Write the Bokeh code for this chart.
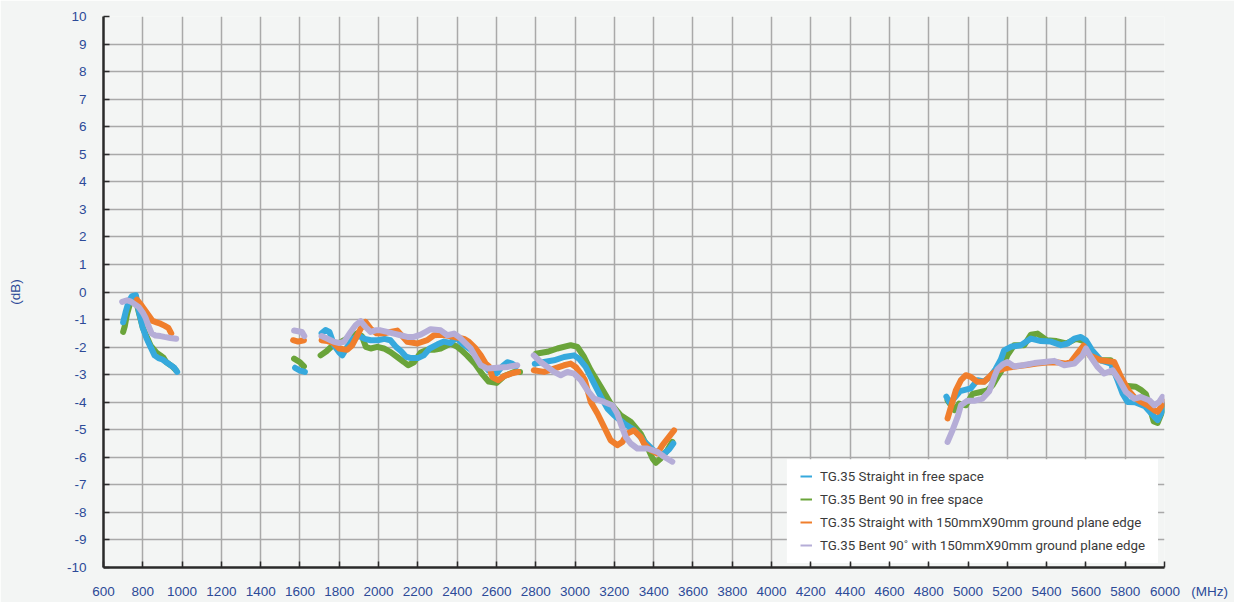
from bokeh.plotting import figure
from bokeh.models import FixedTicker, Legend, LegendItem, BoxAnnotation
from bokeh.embed import file_html
from bokeh.resources import INLINE

NAN = float("nan")

# ---------------- data ----------------
x_ticks = list(range(600, 6001, 200))
y_ticks = list(range(-10, 11, 1))
x_unit = "(MHz)"

series_names = [
    "TG.35 Straight in free space",
    "TG.35 Bent 90 in free space",
    "TG.35 Straight with 150mmX90mm ground plane edge",
    "TG.35 Bent 90\u02da with 150mmX90mm ground plane edge",
]

blue_mhz = [700, 712, 728, 745, 765, 780, 800, 820, 840, 860, 880, 900, 920, 940, 960, 975, NAN,
            1575, 1600, 1625, NAN,
            1710, 1730, 1750, 1775, 1800, 1815, 1840, 1870, 1900, 1930, 1960, 1995, 2030, 2060, 2090, 2115,
            2140, 2165, 2200, 2230, 2260, 2300, 2333, 2367, 2395, 2430, 2470, 2500, 2530, 2560, 2600, 2630,
            2655, 2680, 2700, NAN,
            2795, 2842, 2893, 2944, 2995, 3020, 3054, 3088, 3131, 3165, 3198, 3249, 3300, 3350, 3400, 3450,
            3480, 3500, NAN,
            4890, 4905, 4925, 4960, 5014, 5048, 5080, 5110, 5140, 5167, 5184, 5218, 5269, 5320, 5371, 5422,
            5473, 5507, 5541, 5574, 5600, 5630, 5676, 5727, 5761, 5787, 5812, 5850, 5900, 5948, 5965, 5982, 6000]
blue_db = [-1.1, -0.75, -0.35, -0.15, -0.12, -0.7, -1.3, -1.7, -2.0, -2.3, -2.4, -2.45, -2.55, -2.65, -2.75, -2.9, NAN,
           -2.75, -2.85, -2.9, NAN,
           -1.5, -1.38, -1.45, -1.95, -2.2, -2.3, -2.0, -1.7, -1.6, -1.7, -1.75, -1.75, -1.7, -1.75, -2.0, -2.15,
           -2.35, -2.4, -2.4, -2.3, -2.05, -1.9, -1.8, -1.85, -1.65, -1.9, -2.1, -2.35, -2.6, -2.85, -2.95, -2.7,
           -2.55, -2.6, -2.7, NAN,
           -2.6, -2.54, -2.48, -2.36, -2.3, -2.42, -2.72, -3.2, -3.8, -4.23, -4.47, -4.77, -5.0, -5.4, -5.75, -5.9,
           -5.7, -5.5, NAN,
           -3.8, -4.0, -3.9, -3.6, -3.5, -3.2, -3.25, -3.1, -2.8, -2.45, -2.12, -1.99, -1.93, -1.69, -1.78, -1.8,
           -1.93, -1.87, -1.69, -1.63, -1.75, -2.1, -2.48, -2.6, -3.2, -3.69, -3.99, -4.0, -4.15, -4.53, -4.65, -4.41, -4.1]

green_mhz = [700, 708, 720, 740, 760, 780, 800, 840, 870, 890, 905, 920, 950, 970, NAN,
             1570, 1600, 1620, NAN,
             1705, 1735, 1765, 1800, 1850, 1890, 1915, 1935, 1960, 1993, 2027, 2061, 2095, 2129, 2150, 2180,
             2214, 2248, 2282, 2316, 2367, 2401, 2420, 2450, 2490, 2530, 2560, 2600, 2640, 2690, 2720, NAN,
             2800, 2859, 2910, 2978, 3012, 3046, 3080, 3131, 3181, 3232, 3283, 3334, 3368, 3394, 3411, 3436,
             3470, 3495, NAN,
             4896, 4930, 4955, 4989, 5023, 5065, 5099, 5125, 5150, 5167, 5200, 5235, 5286, 5320, 5354, 5400,
             5450, 5500, 5550, 5600, 5640, 5676, 5727, 5765, 5800, 5854, 5880, 5905, 5925, 5945, 5965, 5985, 6000]
green_db = [-1.45, -1.25, -0.8, -0.3, -0.15, -0.75, -1.3, -1.95, -2.2, -2.3, -2.38, -2.55, -2.7, -2.85, NAN,
            -2.42, -2.55, -2.7, NAN,
            -2.3, -2.15, -1.95, -1.85, -1.65, -1.5, -1.6, -1.99, -2.05, -1.99, -2.05, -2.18, -2.36, -2.54, -2.66, -2.55,
            -2.2, -2.1, -2.1, -2.05, -1.87, -1.99, -2.1, -2.3, -2.6, -3.0, -3.25, -3.3, -3.05, -2.9, -2.9, NAN,
            -2.24, -2.17, -2.05, -1.93, -1.99, -2.36, -2.84, -3.44, -4.05, -4.47, -4.71, -5.14, -5.62, -6.04, -6.2, -6.04,
            -5.74, -5.44, NAN,
            -3.93, -4.29, -4.05, -4.11, -3.7, -3.63, -3.57, -3.38, -3.08, -2.9, -2.3, -1.93, -1.93, -1.55, -1.51, -1.75,
            -1.78, -1.87, -1.7, -1.8, -2.3, -2.48, -2.48, -3.0, -3.4, -3.44, -3.55, -3.7, -4.2, -4.7, -4.75, -4.4, -4.1]

orange_mhz = [770, 790, 810, 830, 850, 870, 890, 910, 930, 945, NAN,
              1565, 1590, 1620, NAN,
              1710, 1740, 1770, 1800, 1840, 1866, 1892, 1909, 1934, 1959, 1990, 2030, 2060, 2095, 2120, 2146,
              2197, 2248, 2282, 2320, 2360, 2400, 2435, 2460, 2494, 2520, 2545, 2562, 2580, 2610, 2640, 2680, 2710, NAN,
              2790, 2842, 2893, 2944, 2978, 3003, 3029, 3050, 3065, 3080, 3114, 3148, 3181, 3215, 3241, 3266,
              3300, 3334, 3351, 3385, 3419, 3445, 3478, 3504, NAN,
              4896, 4913, 4938, 4964, 4989, 5014, 5048, 5082, 5108, 5125, 5150, 5184, 5201, 5250, 5300, 5350,
              5400, 5450, 5500, 5523, 5560, 5588, 5620, 5676, 5744, 5780, 5820, 5850, 5880, 5914, 5948, 5965, 5982, 5999]
orange_db = [-0.28, -0.45, -0.65, -0.85, -1.05, -1.1, -1.15, -1.22, -1.3, -1.5, NAN,
             -1.75, -1.8, -1.75, NAN,
             -1.75, -1.78, -1.85, -2.05, -2.1, -1.93, -1.57, -1.33, -1.09, -1.33, -1.5, -1.5, -1.45, -1.4, -1.6, -1.81,
             -1.87, -1.75, -1.57, -1.55, -1.6, -1.65, -1.7, -1.81, -2.05, -2.3, -2.6, -2.7, -3.1, -3.2, -3.05, -2.95, -2.9, NAN,
             -2.84, -2.9, -2.78, -2.66, -2.6, -2.72, -2.96, -3.2, -3.6, -3.99, -4.41, -4.9, -5.38, -5.56, -5.44, -5.14,
             -5.02, -5.26, -5.5, -5.74, -5.86, -5.56, -5.26, -5.02, NAN,
             -4.59, -4.17, -3.57, -3.2, -3.02, -3.08, -3.26, -3.26, -3.08, -2.96, -2.85, -2.78, -2.75, -2.7, -2.65, -2.6,
             -2.56, -2.55, -2.6, -2.54, -2.2, -1.95, -2.3, -2.48, -2.54, -3.1, -3.6, -3.85, -3.99, -4.11, -4.29, -4.35, -4.17, -3.99]

lav_mhz = [695, 720, 740, 760, 780, 800, 815, 830, 845, 865, 890, 910, 940, 970, NAN,
           1570, 1610, 1622, NAN,
           1710, 1740, 1770, 1800, 1824, 1858, 1883, 1909, 1934, 1959, 1985, 2010, 2044, 2078, 2112, 2146,
           2180, 2214, 2240, 2265, 2316, 2350, 2384, 2409, 2435, 2469, 2494, 2520, 2554, 2604, 2655, 2706, NAN,
           2790, 2825, 2859, 2893, 2927, 2961, 2995, 3029, 3063, 3097, 3148, 3190, 3215, 3232, 3258, 3283,
           3317, 3368, 3419, 3453, 3495, NAN,
           4896, 4921, 4947, 4964, 4997, 5031, 5074, 5108, 5133, 5150, 5176, 5201, 5235, 5286, 5337, 5388,
           5439, 5490, 5541, 5583, 5600, 5625, 5659, 5693, 5736, 5770, 5804, 5846, 5880, 5922, 5948, 5973, 5990, 6000]
lav_db = [-0.36, -0.3, -0.35, -0.45, -0.55, -0.75, -0.95, -1.25, -1.5, -1.58, -1.6, -1.63, -1.67, -1.7, NAN,
          -1.4, -1.45, -1.6, NAN,
          -1.6, -1.7, -1.8, -1.85, -1.81, -1.45, -1.21, -1.06, -1.27, -1.45, -1.39, -1.39, -1.45, -1.51, -1.57, -1.63,
          -1.63, -1.55, -1.45, -1.35, -1.39, -1.57, -1.51, -1.63, -1.81, -2.05, -2.36, -2.66, -2.78, -2.75, -2.72, -2.66, NAN,
          -2.3, -2.54, -2.72, -2.9, -3.02, -2.9, -2.96, -3.2, -3.57, -3.87, -3.99, -4.11, -4.41, -4.77, -5.26, -5.5,
          -5.68, -5.68, -5.8, -5.98, -6.16, NAN,
          -5.44, -5.02, -4.53, -4.11, -3.95, -3.95, -3.87, -3.6, -3.1, -2.8, -2.63, -2.54, -2.7, -2.65, -2.58, -2.54,
          -2.5, -2.66, -2.6, -2.3, -2.05, -2.36, -2.72, -2.96, -2.84, -3.2, -3.63, -3.87, -3.81, -3.93, -4.11, -3.99, -3.81, -3.93]

colors = ["#36a9dd", "#6aa43a", "#f07e2c", "#b5add7"]

# legend panel extent (data units)
legend_box_mhz = (4078, 5967)
legend_box_db = (-6.07, -9.84)

# ---------------- figure ----------------
BG = "#f3f5f4"
LABEL_BLUE = "#2c4a98"

p = figure(width=1234, height=602, x_range=(600, 6000), y_range=(-10, 10),
           output_backend="svg", toolbar_location=None,
           min_border_left=103, min_border_right=70, min_border_top=16, min_border_bottom=35)
p.background_fill_color = BG
p.border_fill_color = BG
p.outline_line_color = None

p.xaxis.ticker = FixedTicker(ticks=x_ticks)
p.yaxis.ticker = FixedTicker(ticks=y_ticks)
p.xgrid.ticker = FixedTicker(ticks=x_ticks)
p.ygrid.ticker = FixedTicker(ticks=y_ticks)
p.yaxis.major_label_overrides = {v: str(v) for v in y_ticks}

# x tick labels; the last one also carries the unit, padded so that "6000" stays centred on its tick
FIG_SP = "\u2007"   # figure space (digit width)
NBSP = "\u00a0"
x_overrides = {v: str(v) for v in x_ticks}
x_overrides[x_ticks[-1]] = FIG_SP * 6 + NBSP + str(x_ticks[-1]) + NBSP * 3 + x_unit
p.xaxis.major_label_overrides = x_overrides

for g in (p.xgrid, p.ygrid):
    g.grid_line_color = "#a9a9a9"
    g.grid_line_width = 1.5

for ax in (p.xaxis, p.yaxis):
    ax.axis_line_color = "#2a2a2a"
    ax.axis_line_width = 2.5
    ax.major_tick_line_color = "#2a2a2a"
    ax.major_tick_line_width = 1.5
    ax.major_tick_in = 6
    ax.major_tick_out = 0
    ax.minor_tick_line_color = None
    ax.major_label_text_color = LABEL_BLUE
    ax.major_label_text_font = "Liberation Sans"
    ax.major_label_text_font_size = "13.5px"

p.xaxis.major_label_standoff = 16
p.yaxis.major_label_standoff = 17
p.yaxis.axis_label = "(dB)"
p.yaxis.axis_label_text_color = LABEL_BLUE
p.yaxis.axis_label_text_font = "Liberation Sans"
p.yaxis.axis_label_text_font_size = "13.5px"
p.yaxis.axis_label_text_font_style = "normal"
p.yaxis.axis_label_standoff = 41

panel = BoxAnnotation(left=legend_box_mhz[0], right=legend_box_mhz[1],
                      top=legend_box_db[0], bottom=legend_box_db[1],
                      fill_color="white", fill_alpha=1.0, line_color=None, level="underlay")
p.add_layout(panel)

data = [(green_mhz, green_db, 1), (blue_mhz, blue_db, 0), (orange_mhz, orange_db, 2), (lav_mhz, lav_db, 3)]
for xs, ys, ci in data:
    p.line(xs, ys, line_color=colors[ci], line_width=6, line_cap="round", line_join="round")

# thin proxies (outside the visible range) for legend glyphs
items = []
for i, name in enumerate(series_names):
    r = p.line(x=[0, 1], y=[-100, -100], line_color=colors[i], line_width=2)
    items.append(LegendItem(label=name, renderers=[r]))

legend = Legend(items=items, location=(697, 12), orientation="vertical",
                background_fill_alpha=0.0, border_line_color=None,
                padding=0, spacing=3, margin=0,
                glyph_width=12, glyph_height=20, label_height=20, label_standoff=8,
                label_text_font="Roboto", label_text_font_size="13.3px",
                label_text_color="#3a3a3a")
p.add_layout(legend)

open("out.html", "w").write(file_html(p, INLINE))
